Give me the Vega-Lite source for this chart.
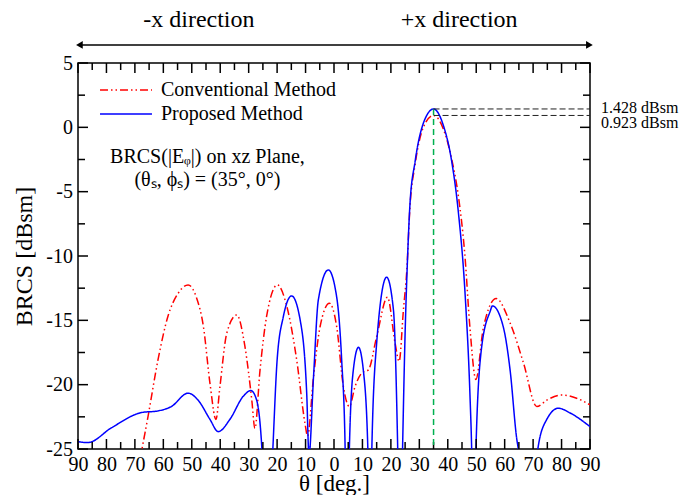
{
  "$schema": "https://vega.github.io/schema/vega-lite/v6.json",
  "width": 512,
  "height": 386,
  "autosize": {"type": "none"},
  "padding": {"left": 78, "top": 63, "right": 109, "bottom": 46},
  "background": "white",
  "config": {
    "view": {"stroke": "black", "strokeWidth": 1.5},
    "font": "Liberation Serif",
    "axis": {
      "labelFont": "Liberation Serif", "titleFont": "Liberation Serif",
      "labelFontSize": 20, "titleFontSize": 24, "titleFontWeight": "normal",
      "labelColor": "black", "titleColor": "black",
      "domain": false, "grid": false, "ticks": false
    }
  },
  "datasets": {
    "curves": [
      {"method": "Conventional Method", "theta": -75, "brcs": -35},
      {"method": "Conventional Method", "theta": -67.5, "brcs": -25},
      {"method": "Conventional Method", "theta": -65.4, "brcs": -22.5},
      {"method": "Conventional Method", "theta": -61.9, "brcs": -18.1},
      {"method": "Conventional Method", "theta": -58.4, "brcs": -14.7},
      {"method": "Conventional Method", "theta": -54.8, "brcs": -12.9},
      {"method": "Conventional Method", "theta": -51.3, "brcs": -12.25},
      {"method": "Conventional Method", "theta": -48.4, "brcs": -13.2},
      {"method": "Conventional Method", "theta": -45.9, "brcs": -15.5},
      {"method": "Conventional Method", "theta": -43.6, "brcs": -19.9},
      {"method": "Conventional Method", "theta": -41.5, "brcs": -22.7},
      {"method": "Conventional Method", "theta": -40.1, "brcs": -20.15},
      {"method": "Conventional Method", "theta": -37.7, "brcs": -16.0},
      {"method": "Conventional Method", "theta": -34.2, "brcs": -14.58},
      {"method": "Conventional Method", "theta": -31.3, "brcs": -17.05},
      {"method": "Conventional Method", "theta": -28.9, "brcs": -21.2},
      {"method": "Conventional Method", "theta": -27.8, "brcs": -23.4},
      {"method": "Conventional Method", "theta": -26.0, "brcs": -18.85},
      {"method": "Conventional Method", "theta": -23.7, "brcs": -14.7},
      {"method": "Conventional Method", "theta": -19.9, "brcs": -12.25},
      {"method": "Conventional Method", "theta": -16.6, "brcs": -13.9},
      {"method": "Conventional Method", "theta": -13.1, "brcs": -18.1},
      {"method": "Conventional Method", "theta": -10.2, "brcs": -23.0},
      {"method": "Conventional Method", "theta": -9.3, "brcs": -24.0},
      {"method": "Conventional Method", "theta": -7.2, "brcs": -19.4},
      {"method": "Conventional Method", "theta": -4.9, "brcs": -15.5},
      {"method": "Conventional Method", "theta": -1.6, "brcs": -13.67},
      {"method": "Conventional Method", "theta": 0.95, "brcs": -15.5},
      {"method": "Conventional Method", "theta": 3.3, "brcs": -20.15},
      {"method": "Conventional Method", "theta": 5.4, "brcs": -21.7},
      {"method": "Conventional Method", "theta": 7.4, "brcs": -20.15},
      {"method": "Conventional Method", "theta": 9.75, "brcs": -19.1},
      {"method": "Conventional Method", "theta": 12.1, "brcs": -18.85},
      {"method": "Conventional Method", "theta": 15.0, "brcs": -16.27},
      {"method": "Conventional Method", "theta": 18.8, "brcs": -13.2},
      {"method": "Conventional Method", "theta": 21.5, "brcs": -16.8},
      {"method": "Conventional Method", "theta": 22.9, "brcs": -18.2},
      {"method": "Conventional Method", "theta": 24.4, "brcs": -14.2},
      {"method": "Conventional Method", "theta": 25.6, "brcs": -11.1},
      {"method": "Conventional Method", "theta": 26.7, "brcs": -6.2},
      {"method": "Conventional Method", "theta": 28.5, "brcs": -2.9},
      {"method": "Conventional Method", "theta": 31.4, "brcs": 0.0},
      {"method": "Conventional Method", "theta": 35, "brcs": 0.923},
      {"method": "Conventional Method", "theta": 38.4, "brcs": -0.1},
      {"method": "Conventional Method", "theta": 41.4, "brcs": -2.5},
      {"method": "Conventional Method", "theta": 43.7, "brcs": -5.3},
      {"method": "Conventional Method", "theta": 46.0, "brcs": -9.9},
      {"method": "Conventional Method", "theta": 47.8, "brcs": -15.6},
      {"method": "Conventional Method", "theta": 49.9, "brcs": -19.6},
      {"method": "Conventional Method", "theta": 52.5, "brcs": -15.6},
      {"method": "Conventional Method", "theta": 57.0, "brcs": -13.3},
      {"method": "Conventional Method", "theta": 61.9, "brcs": -15.2},
      {"method": "Conventional Method", "theta": 66.6, "brcs": -18.3},
      {"method": "Conventional Method", "theta": 71.3, "brcs": -21.7},
      {"method": "Conventional Method", "theta": 74.8, "brcs": -21.2},
      {"method": "Conventional Method", "theta": 80.0, "brcs": -20.8},
      {"method": "Conventional Method", "theta": 85.3, "brcs": -21.05},
      {"method": "Conventional Method", "theta": 90, "brcs": -21.57},
      {"method": "Proposed Method", "theta": -90, "brcs": -24.43},
      {"method": "Proposed Method", "theta": -86.5, "brcs": -24.5},
      {"method": "Proposed Method", "theta": -78.3, "brcs": -23.36},
      {"method": "Proposed Method", "theta": -67.7, "brcs": -22.17},
      {"method": "Proposed Method", "theta": -61.9, "brcs": -22.04},
      {"method": "Proposed Method", "theta": -57.2, "brcs": -21.7},
      {"method": "Proposed Method", "theta": -51.3, "brcs": -20.66},
      {"method": "Proposed Method", "theta": -47.8, "brcs": -21.2},
      {"method": "Proposed Method", "theta": -43.6, "brcs": -22.7},
      {"method": "Proposed Method", "theta": -40.7, "brcs": -23.65},
      {"method": "Proposed Method", "theta": -36.6, "brcs": -22.7},
      {"method": "Proposed Method", "theta": -31.9, "brcs": -20.9},
      {"method": "Proposed Method", "theta": -29.2, "brcs": -20.46},
      {"method": "Proposed Method", "theta": -27.2, "brcs": -21.2},
      {"method": "Proposed Method", "theta": -25.4, "brcs": -24.8},
      {"method": "Proposed Method", "theta": -23.5, "brcs": -35},
      {"method": "Proposed Method", "theta": -21.5, "brcs": -25},
      {"method": "Proposed Method", "theta": -20.0, "brcs": -18.1},
      {"method": "Proposed Method", "theta": -17.8, "brcs": -14.7},
      {"method": "Proposed Method", "theta": -14.9, "brcs": -13.1},
      {"method": "Proposed Method", "theta": -11.9, "brcs": -14.97},
      {"method": "Proposed Method", "theta": -9.6, "brcs": -20.65},
      {"method": "Proposed Method", "theta": -8.8, "brcs": -25.5},
      {"method": "Proposed Method", "theta": -7.2, "brcs": -19.4},
      {"method": "Proposed Method", "theta": -5.5, "brcs": -13.4},
      {"method": "Proposed Method", "theta": -2.0, "brcs": -11.08},
      {"method": "Proposed Method", "theta": 0.95, "brcs": -13.2},
      {"method": "Proposed Method", "theta": 2.7, "brcs": -18.1},
      {"method": "Proposed Method", "theta": 3.9, "brcs": -24.8},
      {"method": "Proposed Method", "theta": 4.6, "brcs": -35},
      {"method": "Proposed Method", "theta": 5.4, "brcs": -25},
      {"method": "Proposed Method", "theta": 6.8, "brcs": -18.85},
      {"method": "Proposed Method", "theta": 8.6, "brcs": -17.1},
      {"method": "Proposed Method", "theta": 10.3, "brcs": -18.85},
      {"method": "Proposed Method", "theta": 11.9, "brcs": -25},
      {"method": "Proposed Method", "theta": 12.6, "brcs": -35},
      {"method": "Proposed Method", "theta": 13.3, "brcs": -25},
      {"method": "Proposed Method", "theta": 15.0, "brcs": -16.76},
      {"method": "Proposed Method", "theta": 18.5, "brcs": -11.65},
      {"method": "Proposed Method", "theta": 20.9, "brcs": -14.2},
      {"method": "Proposed Method", "theta": 22.4, "brcs": -25},
      {"method": "Proposed Method", "theta": 23.2, "brcs": -35},
      {"method": "Proposed Method", "theta": 24.1, "brcs": -25},
      {"method": "Proposed Method", "theta": 25.0, "brcs": -16},
      {"method": "Proposed Method", "theta": 25.8, "brcs": -10.5},
      {"method": "Proposed Method", "theta": 26.7, "brcs": -6.0},
      {"method": "Proposed Method", "theta": 28.5, "brcs": -2.67},
      {"method": "Proposed Method", "theta": 31.4, "brcs": 0.31},
      {"method": "Proposed Method", "theta": 35, "brcs": 1.428},
      {"method": "Proposed Method", "theta": 38.4, "brcs": 0.18},
      {"method": "Proposed Method", "theta": 41.4, "brcs": -2.67},
      {"method": "Proposed Method", "theta": 43.7, "brcs": -6.55},
      {"method": "Proposed Method", "theta": 46.1, "brcs": -13.0},
      {"method": "Proposed Method", "theta": 47.8, "brcs": -20.8},
      {"method": "Proposed Method", "theta": 48.4, "brcs": -25},
      {"method": "Proposed Method", "theta": 49.2, "brcs": -35},
      {"method": "Proposed Method", "theta": 49.9, "brcs": -25},
      {"method": "Proposed Method", "theta": 51.9, "brcs": -17.1},
      {"method": "Proposed Method", "theta": 54.9, "brcs": -14.3},
      {"method": "Proposed Method", "theta": 55.7, "brcs": -13.88},
      {"method": "Proposed Method", "theta": 59.5, "brcs": -15.5},
      {"method": "Proposed Method", "theta": 61.9, "brcs": -18.85},
      {"method": "Proposed Method", "theta": 64.3, "brcs": -24.3},
      {"method": "Proposed Method", "theta": 64.8, "brcs": -25},
      {"method": "Proposed Method", "theta": 68.0, "brcs": -35},
      {"method": "Proposed Method", "theta": 71.8, "brcs": -24.8},
      {"method": "Proposed Method", "theta": 74.8, "brcs": -22.7},
      {"method": "Proposed Method", "theta": 78.9, "brcs": -21.83},
      {"method": "Proposed Method", "theta": 83.0, "brcs": -22.2},
      {"method": "Proposed Method", "theta": 90, "brcs": -23.26}
    ],
    "peaks": [
      {"theta": 35, "peak": 1.428, "label": "1.428 dBsm"},
      {"theta": 35, "peak": 0.923, "label": "0.923 dBsm"}
    ],
    "xmajor": [{"t": -90}, {"t": -80}, {"t": -70}, {"t": -60}, {"t": -50}, {"t": -40}, {"t": -30}, {"t": -20}, {"t": -10}, {"t": 0}, {"t": 10}, {"t": 20}, {"t": 30}, {"t": 40}, {"t": 50}, {"t": 60}, {"t": 70}, {"t": 80}, {"t": 90}],
    "xminor": [{"t": -85}, {"t": -75}, {"t": -65}, {"t": -55}, {"t": -45}, {"t": -35}, {"t": -25}, {"t": -15}, {"t": -5}, {"t": 5}, {"t": 15}, {"t": 25}, {"t": 35}, {"t": 45}, {"t": 55}, {"t": 65}, {"t": 75}, {"t": 85}],
    "ymajor": [{"t": -25}, {"t": -20}, {"t": -15}, {"t": -10}, {"t": -5}, {"t": 0}, {"t": 5}],
    "yminor": [{"t": -22.5}, {"t": -17.5}, {"t": -12.5}, {"t": -7.5}, {"t": -2.5}, {"t": 2.5}]
  },
  "layer": [
    {
      "data": {"name": "curves"},
      "mark": {"type": "line", "interpolate": "monotone", "clip": true, "strokeWidth": 1.5},
      "encoding": {
        "x": {
          "field": "theta", "type": "quantitative",
          "scale": {"domain": [-90, 90], "nice": false, "zero": false},
          "axis": {
            "orient": "bottom",
            "values": [-90,-80,-70,-60,-50,-40,-30,-20,-10,0,10,20,30,40,50,60,70,80,90],
            "labelExpr": "'' + abs(datum.value)",
            "labelPadding": 5, "labelFlush": false, "labelOverlap": false, "labelBound": false,
            "title": "θ [deg.]", "titleFontSize": 23, "titlePadding": -2
          }
        },
        "y": {
          "field": "brcs", "type": "quantitative",
          "scale": {"domain": [-25, 5], "nice": false, "zero": false},
          "axis": {
            "orient": "left",
            "values": [-25,-20,-15,-10,-5,0,5],
            "labelExpr": "'' + datum.value",
            "labelPadding": 5.5, "labelFlush": false, "labelOverlap": false, "labelBound": false,
            "title": "BRCS [dBsm]", "titlePadding": 9
          }
        },
        "color": {
          "field": "method", "type": "nominal",
          "scale": {"domain": ["Conventional Method", "Proposed Method"], "range": ["#ff0000", "#0000ff"]},
          "legend": {
            "title": null, "orient": "none", "legendX": 38, "legendY": 17, "padding": 0,
            "symbolType": "M-10,0H10", "symbolSize": 27, "symbolStrokeWidth": 1.5,
            "labelFont": "Liberation Serif", "labelFontSize": 20, "labelColor": "black", "labelLimit": 400,
            "labelOffset": 25, "rowPadding": 4
          }
        },
        "strokeDash": {
          "field": "method", "type": "nominal",
          "scale": {"domain": ["Conventional Method", "Proposed Method"], "range": [[8, 3, 1.5, 3, 1.5, 3], [1, 0]]},
          "legend": {
            "title": null, "orient": "none", "legendX": 38, "legendY": 17, "padding": 0,
            "symbolType": "M-10,0H10", "symbolSize": 27, "symbolStrokeWidth": 1.5,
            "labelFont": "Liberation Serif", "labelFontSize": 20, "labelColor": "black", "labelLimit": 400,
            "labelOffset": 25, "rowPadding": 4
          }
        }
      }
    },
    {
      "data": {"name": "xmajor"},
      "mark": {"type": "tick", "orient": "vertical", "size": 10, "thickness": 1.5, "yOffset": -5, "color": "black", "opacity": 1},
      "encoding": {
        "x": {"field": "t", "type": "quantitative", "scale": {"domain": [-90, 90], "nice": false, "zero": false}, "axis": null},
        "y": {"datum": -25, "type": "quantitative", "scale": {"domain": [-25, 5], "nice": false, "zero": false}, "axis": null}
      }
    },
    {
      "data": {"name": "xmajor"},
      "mark": {"type": "tick", "orient": "vertical", "size": 10, "thickness": 1.5, "yOffset": 5, "color": "black", "opacity": 1},
      "encoding": {
        "x": {"field": "t", "type": "quantitative", "scale": {"domain": [-90, 90], "nice": false, "zero": false}, "axis": null},
        "y": {"datum": 5, "type": "quantitative", "scale": {"domain": [-25, 5], "nice": false, "zero": false}, "axis": null}
      }
    },
    {
      "data": {"name": "xminor"},
      "mark": {"type": "tick", "orient": "vertical", "size": 7, "thickness": 1.5, "yOffset": -3.5, "color": "black", "opacity": 1},
      "encoding": {
        "x": {"field": "t", "type": "quantitative", "scale": {"domain": [-90, 90], "nice": false, "zero": false}, "axis": null},
        "y": {"datum": -25, "type": "quantitative", "scale": {"domain": [-25, 5], "nice": false, "zero": false}, "axis": null}
      }
    },
    {
      "data": {"name": "xminor"},
      "mark": {"type": "tick", "orient": "vertical", "size": 7, "thickness": 1.5, "yOffset": 3.5, "color": "black", "opacity": 1},
      "encoding": {
        "x": {"field": "t", "type": "quantitative", "scale": {"domain": [-90, 90], "nice": false, "zero": false}, "axis": null},
        "y": {"datum": 5, "type": "quantitative", "scale": {"domain": [-25, 5], "nice": false, "zero": false}, "axis": null}
      }
    },
    {
      "data": {"name": "ymajor"},
      "mark": {"type": "tick", "orient": "horizontal", "size": 10, "thickness": 1.5, "xOffset": 5, "color": "black", "opacity": 1},
      "encoding": {
        "y": {"field": "t", "type": "quantitative", "scale": {"domain": [-25, 5], "nice": false, "zero": false}, "axis": null},
        "x": {"datum": -90, "type": "quantitative", "scale": {"domain": [-90, 90], "nice": false, "zero": false}, "axis": null}
      }
    },
    {
      "data": {"name": "ymajor"},
      "mark": {"type": "tick", "orient": "horizontal", "size": 10, "thickness": 1.5, "xOffset": -5, "color": "black", "opacity": 1},
      "encoding": {
        "y": {"field": "t", "type": "quantitative", "scale": {"domain": [-25, 5], "nice": false, "zero": false}, "axis": null},
        "x": {"datum": 90, "type": "quantitative", "scale": {"domain": [-90, 90], "nice": false, "zero": false}, "axis": null}
      }
    },
    {
      "data": {"name": "yminor"},
      "mark": {"type": "tick", "orient": "horizontal", "size": 7, "thickness": 1.5, "xOffset": 3.5, "color": "black", "opacity": 1},
      "encoding": {
        "y": {"field": "t", "type": "quantitative", "scale": {"domain": [-25, 5], "nice": false, "zero": false}, "axis": null},
        "x": {"datum": -90, "type": "quantitative", "scale": {"domain": [-90, 90], "nice": false, "zero": false}, "axis": null}
      }
    },
    {
      "data": {"name": "yminor"},
      "mark": {"type": "tick", "orient": "horizontal", "size": 7, "thickness": 1.5, "xOffset": -3.5, "color": "black", "opacity": 1},
      "encoding": {
        "y": {"field": "t", "type": "quantitative", "scale": {"domain": [-25, 5], "nice": false, "zero": false}, "axis": null},
        "x": {"datum": 90, "type": "quantitative", "scale": {"domain": [-90, 90], "nice": false, "zero": false}, "axis": null}
      }
    },
    {
      "data": {"values": [{"theta": 35, "peak": 1.428}]},
      "mark": {"type": "rule", "color": "#00b050", "strokeWidth": 1.5, "strokeDash": [6, 4]},
      "encoding": {
        "x": {"field": "theta", "type": "quantitative", "scale": {"domain": [-90, 90], "nice": false, "zero": false}, "axis": null},
        "y": {"field": "peak", "type": "quantitative", "scale": {"domain": [-25, 5], "nice": false, "zero": false}, "axis": null},
        "y2": {"datum": -25}
      }
    },
    {
      "data": {"name": "peaks"},
      "mark": {"type": "rule", "color": "#222222", "strokeWidth": 1, "strokeDash": [6, 3]},
      "encoding": {
        "x": {"field": "theta", "type": "quantitative", "scale": {"domain": [-90, 90], "nice": false, "zero": false}, "axis": null},
        "x2": {"datum": 90},
        "y": {"field": "peak", "type": "quantitative", "scale": {"domain": [-25, 5], "nice": false, "zero": false}, "axis": null}
      }
    },
    {
      "data": {"name": "peaks"},
      "transform": [{"filter": "datum.peak > 1"}],
      "mark": {"type": "text", "align": "left", "baseline": "middle", "dx": 11, "dy": -1, "font": "Liberation Serif", "fontSize": 16, "color": "black"},
      "encoding": {
        "x": {"datum": 90, "type": "quantitative", "scale": {"domain": [-90, 90], "nice": false, "zero": false}, "axis": null},
        "y": {"field": "peak", "type": "quantitative", "scale": {"domain": [-25, 5], "nice": false, "zero": false}, "axis": null},
        "text": {"field": "label"}
      }
    },
    {
      "data": {"name": "peaks"},
      "transform": [{"filter": "datum.peak < 1"}],
      "mark": {"type": "text", "align": "left", "baseline": "top", "dx": 11, "dy": 0, "font": "Liberation Serif", "fontSize": 16, "color": "black"},
      "encoding": {
        "x": {"datum": 90, "type": "quantitative", "scale": {"domain": [-90, 90], "nice": false, "zero": false}, "axis": null},
        "y": {"field": "peak", "type": "quantitative", "scale": {"domain": [-25, 5], "nice": false, "zero": false}, "axis": null},
        "text": {"field": "label"}
      }
    },
    {
      "data": {"values": [{}]},
      "mark": {"type": "text", "align": "center", "baseline": "middle", "font": "Liberation Serif", "fontSize": 20, "lineHeight": 23, "color": "black",
               "text": ["BRCS(|Eᵩ|) on xz Plane,", "(θₛ, ϕₛ)  =  (35°, 0°)"]},
      "encoding": {
        "x": {"datum": -44.5, "type": "quantitative", "scale": {"domain": [-90, 90], "nice": false, "zero": false}, "axis": null},
        "y": {"datum": -2.3, "type": "quantitative", "scale": {"domain": [-25, 5], "nice": false, "zero": false}, "axis": null}
      }
    },
    {
      "data": {"values": [{}]},
      "mark": {"type": "text", "align": "center", "baseline": "middle", "font": "Liberation Serif", "fontSize": 24, "color": "black", "text": "-x  direction"},
      "encoding": {
        "x": {"datum": -47.5, "type": "quantitative", "scale": {"domain": [-90, 90], "nice": false, "zero": false}, "axis": null},
        "y": {"datum": 8.35, "type": "quantitative", "scale": {"domain": [-25, 5], "nice": false, "zero": false}, "axis": null}
      }
    },
    {
      "data": {"values": [{}]},
      "mark": {"type": "text", "align": "center", "baseline": "middle", "font": "Liberation Serif", "fontSize": 24, "color": "black", "text": "+x direction"},
      "encoding": {
        "x": {"datum": 44, "type": "quantitative", "scale": {"domain": [-90, 90], "nice": false, "zero": false}, "axis": null},
        "y": {"datum": 8.35, "type": "quantitative", "scale": {"domain": [-25, 5], "nice": false, "zero": false}, "axis": null}
      }
    },
    {
      "data": {"values": [{}]},
      "mark": {"type": "rule", "color": "black", "strokeWidth": 1.5},
      "encoding": {
        "x": {"datum": -89, "type": "quantitative", "scale": {"domain": [-90, 90], "nice": false, "zero": false}, "axis": null},
        "x2": {"datum": 89},
        "y": {"datum": 6.4, "type": "quantitative", "scale": {"domain": [-25, 5], "nice": false, "zero": false}, "axis": null}
      }
    },
    {
      "data": {"values": [{}]},
      "mark": {"type": "point", "shape": "triangle-left", "filled": true, "color": "black", "size": 60, "opacity": 1},
      "encoding": {
        "x": {"datum": -89.5, "type": "quantitative", "scale": {"domain": [-90, 90], "nice": false, "zero": false}, "axis": null},
        "y": {"datum": 6.4, "type": "quantitative", "scale": {"domain": [-25, 5], "nice": false, "zero": false}, "axis": null}
      }
    },
    {
      "data": {"values": [{}]},
      "mark": {"type": "point", "shape": "triangle-right", "filled": true, "color": "black", "size": 60, "opacity": 1},
      "encoding": {
        "x": {"datum": 89.8, "type": "quantitative", "scale": {"domain": [-90, 90], "nice": false, "zero": false}, "axis": null},
        "y": {"datum": 6.4, "type": "quantitative", "scale": {"domain": [-25, 5], "nice": false, "zero": false}, "axis": null}
      }
    }
  ],
  "resolve": {"axis": {"x": "independent", "y": "independent"}}
}
